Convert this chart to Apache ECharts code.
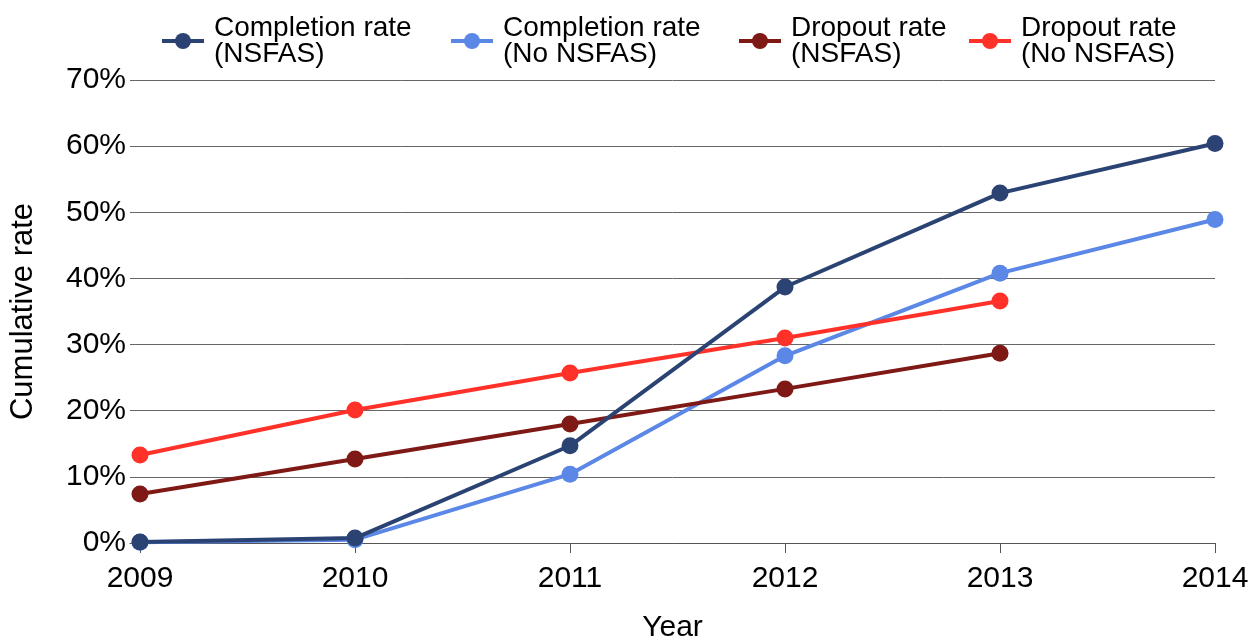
<!DOCTYPE html>
<html><head><meta charset="utf-8">
<script src="https://cdn.jsdelivr.net/npm/echarts@6/dist/echarts.min.js"></script>
<style>html,body{margin:0;padding:0;background:#fff}#c{width:1259px;height:642px}</style>
</head><body><div id="c"></div>
<script>
const years = [2009, 2010, 2011, 2012, 2013, 2014];
const completionNSFAS = [0.15, 0.75, 14.7, 38.7, 52.9, 60.4];
const completionNoNSFAS = [0.1, 0.5, 10.4, 28.3, 40.8, 48.9];
const dropoutNSFAS = [7.4, 12.7, 18.0, 23.3, 28.7];
const dropoutNoNSFAS = [13.3, 20.1, 25.7, 31.0, 36.6];
const yTicks = [0, 10, 20, 30, 40, 50, 60, 70];
const seriesNames = ['Completion rate\n(NSFAS)', 'Completion rate\n(No NSFAS)', 'Dropout rate\n(NSFAS)', 'Dropout rate\n(No NSFAS)'];
const colors = ['#2b4373', '#5b87e6', '#7e1916', '#ff3129'];

const pairs = vals => vals.map((v, i) => [years[i], v]);
const font = '"Liberation Sans", Arial, sans-serif';
const chart = echarts.init(document.getElementById('c'), null, {renderer: 'canvas'});
const allData = [completionNSFAS, completionNoNSFAS, dropoutNSFAS, dropoutNoNSFAS];
const zs = [5, 2, 3, 4];
const legendLefts = [155, 444, 732, 962];

const option = {
  animation: false,
  backgroundColor: '#fff',
  textStyle: {fontFamily: font},
  legend: seriesNames.map((n, i) => ({
    data: [n], left: legendLefts[i], top: 4, orient: 'horizontal',
    itemWidth: 42, itemHeight: 20,
    lineStyle: {width: 4},
    textStyle: {fontFamily: font, fontSize: 28, lineHeight: 26, color: '#000', padding: [0, 0, 12, 5]}
  })),
  grid: {left: 130, right: 44, top: 80, bottom: 99, containLabel: false, outerBoundsMode: 'none'},
  xAxis: {
    type: 'value', min: 2009 - 10 / 215, max: 2014,
    name: 'Year', nameLocation: 'middle', nameGap: 70,
    nameTextStyle: {fontFamily: font, fontSize: 30, color: '#000'},
    axisLine: {show: true, lineStyle: {color: '#555', width: 1}},
    axisTick: {show: true, customValues: years, length: 10, lineStyle: {color: '#555'}},
    axisLabel: {customValues: years, fontFamily: font, fontSize: 30, color: '#000', margin: 21, formatter: v => String(v)},
    splitLine: {show: false}
  },
  yAxis: {
    type: 'value', min: 0, max: 70, interval: 10,
    name: 'Cumulative rate', nameLocation: 'middle', nameGap: 91,
    nameTextStyle: {fontFamily: font, fontSize: 31, color: '#000'},
    axisLine: {show: false},
    axisTick: {show: false},
    axisLabel: {fontFamily: font, fontSize: 30, color: '#000', margin: 4, formatter: v => yTicks.includes(v) ? v + '%' : ''},
    splitLine: {show: true, lineStyle: {color: '#666', width: 1}}
  },
  series: allData.map((d, i) => ({
    name: seriesNames[i], type: 'line', data: pairs(d),
    z: zs[i], symbol: 'circle', symbolSize: 17,
    lineStyle: {color: colors[i], width: 4},
    itemStyle: {color: colors[i]}
  }))
};
chart.setOption(option);
</script></body></html>
